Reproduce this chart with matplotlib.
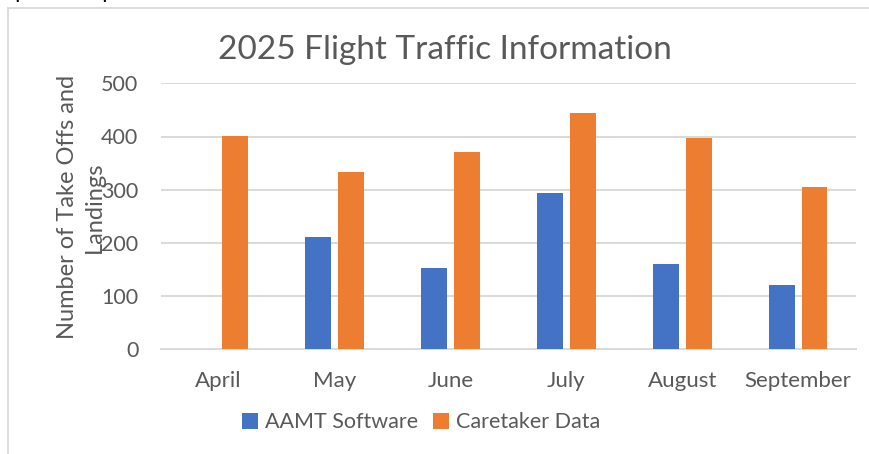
import matplotlib
matplotlib.use("Agg")
import matplotlib.pyplot as plt
import numpy as np
from matplotlib.patches import Patch
from matplotlib.lines import Line2D

plt.rcParams['font.family'] = ['Lato', 'DejaVu Sans']

months = ["April", "May", "June", "July", "August", "September"]
aamt = [0, 212, 153, 293, 160, 120]
caretaker = [401, 334, 370, 445, 397, 305]
series_names = ["AAMT Software", "Caretaker Data"]
yticks = [0, 100, 200, 300, 400, 500]

BLUE = "#4472C4"
ORANGE = "#ED7D31"
GRAY = "#595959"
GRID = "#D9D9D9"

W, H = 870, 454
fig = plt.figure(figsize=(W / 100, H / 100), dpi=100)

ax = fig.add_axes([160.7 / W, (H - 349.3) / H, (856 - 160.7) / W, 266 / H])
x = np.arange(len(months))
bw = 0.224
off = 0.142
ax.bar(x - off, aamt, bw, color=BLUE, zorder=3)
ax.bar(x + off, caretaker, bw, color=ORANGE, zorder=3)

ax.set_xlim(-0.5, len(months) - 0.5)
ax.set_ylim(0, 500)
ax.set_yticks(yticks)
ax.set_xticks(x)
ax.set_xticklabels(months)
ax.yaxis.grid(True, color=GRID, linewidth=1.4, zorder=0)
ax.set_axisbelow(True)
for s in ["top", "right", "left"]:
    ax.spines[s].set_visible(False)
ax.spines["bottom"].set_color(GRID)
ax.spines["bottom"].set_linewidth(1.4)
ax.tick_params(axis="both", length=0, colors=GRAY)
ax.tick_params(axis="y", pad=16, labelsize=15.5)
ax.tick_params(axis="x", pad=15.5, labelsize=16)

fig.text(445 / W, 1 - 50 / H, "2025 Flight Traffic Information", fontsize=24,
         color=GRAY, ha="center", va="center")

fig.text(81 / W, 1 - 207 / H, "Number of Take Offs and\nLandings", rotation=90,
         fontsize=17, color=GRAY, ha="center", va="center", multialignment="center",
         linespacing=1.3)

handles = [Patch(facecolor=BLUE), Patch(facecolor=ORANGE)]
fig.legend(handles, series_names, loc="center", bbox_to_anchor=(421 / W, 1 - 422.5 / H),
           ncol=2, frameon=False, fontsize=15.5, labelcolor=GRAY,
           handlelength=0.75, handleheight=0.75, handletextpad=0.3,
           columnspacing=0.7, borderpad=0)

# outer border (top and left)
fig.add_artist(Line2D([8.5 / W, 8.5 / W], [0, 1 - 8 / H], transform=fig.transFigure,
                      color=GRID, linewidth=1.3))
fig.add_artist(Line2D([8.5 / W, 1], [1 - 8 / H, 1 - 8 / H], transform=fig.transFigure,
                      color=GRID, linewidth=1.3))

# text above the chart, clipped at the top edge as in the reference
fig.text(0, 1 + 1.5 / H, "April to September", fontsize=16, color="black",
         ha="left", va="baseline")

fig.savefig("out.png", dpi=100, facecolor="white")
